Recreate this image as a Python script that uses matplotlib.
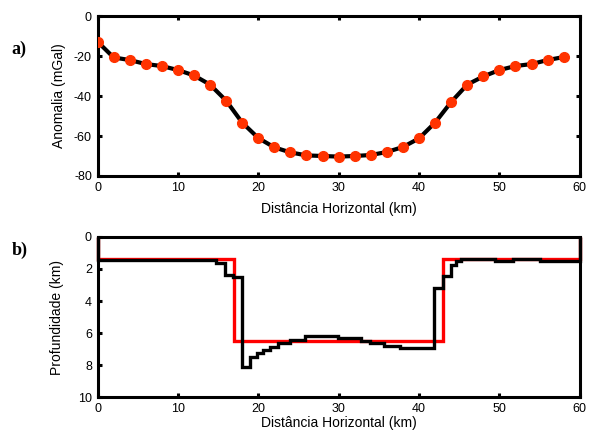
import matplotlib
matplotlib.use("Agg")
import matplotlib.pyplot as plt

plt.rcParams['font.family'] = ['Liberation Sans', 'DejaVu Sans']
plt.rcParams['axes.unicode_minus'] = False

# anomalia gravimetrica observada (mGal) a cada 2 km
dist = [0, 2, 4, 6, 8, 10, 12, 14, 16, 18, 20, 22, 24, 26, 28,
        30, 32, 34, 36, 38, 40, 42, 44, 46, 48, 50, 52, 54, 56, 58]
anomalia = [-12.8, -20.7, -22.0, -24.0, -25.0, -27.0, -29.7, -34.3, -42.3, -53.3,
            -61.0, -65.7, -68.2, -69.7, -70.0, -70.3, -70.0, -69.5, -68.0, -65.5,
            -61.2, -53.3, -43.0, -34.3, -30.2, -27.0, -25.0, -24.0, -22.0, -20.5]

# modelo verdadeiro (vermelho): bordas dos blocos e profundidade do embasamento
borda_real = [0, 17, 43, 60]
prof_real = [1.35, 6.5, 1.35]

# modelo estimado pela inversao (preto)
borda_inv = [0, 14.8, 15.85, 16.9, 18.0, 19.0, 19.8, 20.6, 21.4, 22.5, 23.9, 25.8,
             29.9, 32.8, 33.9, 35.7, 37.6, 41.9, 43.0, 44.0, 44.6, 45.2, 49.4,
             51.7, 55.0, 60]
prof_inv = [1.42, 1.65, 2.38, 2.5, 8.13, 7.5, 7.26, 7.05, 6.85, 6.62, 6.42, 6.2,
            6.33, 6.48, 6.62, 6.78, 6.9, 3.2, 2.45, 1.76, 1.5, 1.4, 1.5, 1.4, 1.5]

fig = plt.figure(figsize=(5.91, 4.34), dpi=100)
ax1 = fig.add_axes([0.165, 0.5945, 0.816, 0.3685])
ax2 = fig.add_axes([0.165, 0.0846, 0.816, 0.3695])

def estilo(ax):
    for s in ax.spines.values():
        s.set_linewidth(2.2)
    ax.tick_params(direction='in', length=3, width=2.2, labelsize=9, pad=4)

# a) anomalia
ax1.plot(dist, anomalia, color='black', lw=3, zorder=2)
ax1.plot(dist, anomalia, 'o', color='#ff3300', ms=7, mec='#ff3300', zorder=3)
ax1.set_xlim(0, 60)
ax1.set_ylim(-80, 0)
ax1.set_xticks(range(0, 61, 10))
ax1.set_yticks(range(-80, 1, 20))
ax1.tick_params(top=True, right=True)
estilo(ax1)
ax1.set_xlabel('Distância Horizontal (km)', fontsize=10, labelpad=6)
ax1.set_ylabel('Anomalia (mGal)', fontsize=10, labelpad=6)

# b) modelos do embasamento
ax2.stairs(prof_real, borda_real, baseline=0, color='red', lw=2.4, clip_on=False, zorder=2)
ax2.stairs(prof_inv, borda_inv, baseline=0, color='black', lw=2.4, clip_on=False, zorder=3)
ax2.set_xlim(0, 60)
ax2.set_ylim(10, 0)
ax2.set_xticks(range(0, 61, 10))
ax2.set_yticks(range(0, 11, 2))
estilo(ax2)
ax2.set_xlabel('Distância Horizontal (km)', fontsize=10, labelpad=1)
ax2.set_ylabel('Profundidade (km)', fontsize=10, labelpad=10)

fig.text(0.02, 0.876, 'a)', fontsize=13, fontweight='bold', family='Liberation Serif')
fig.text(0.02, 0.412, 'b)', fontsize=13, fontweight='bold', family='Liberation Serif')

fig.savefig('out.png', dpi=100)
